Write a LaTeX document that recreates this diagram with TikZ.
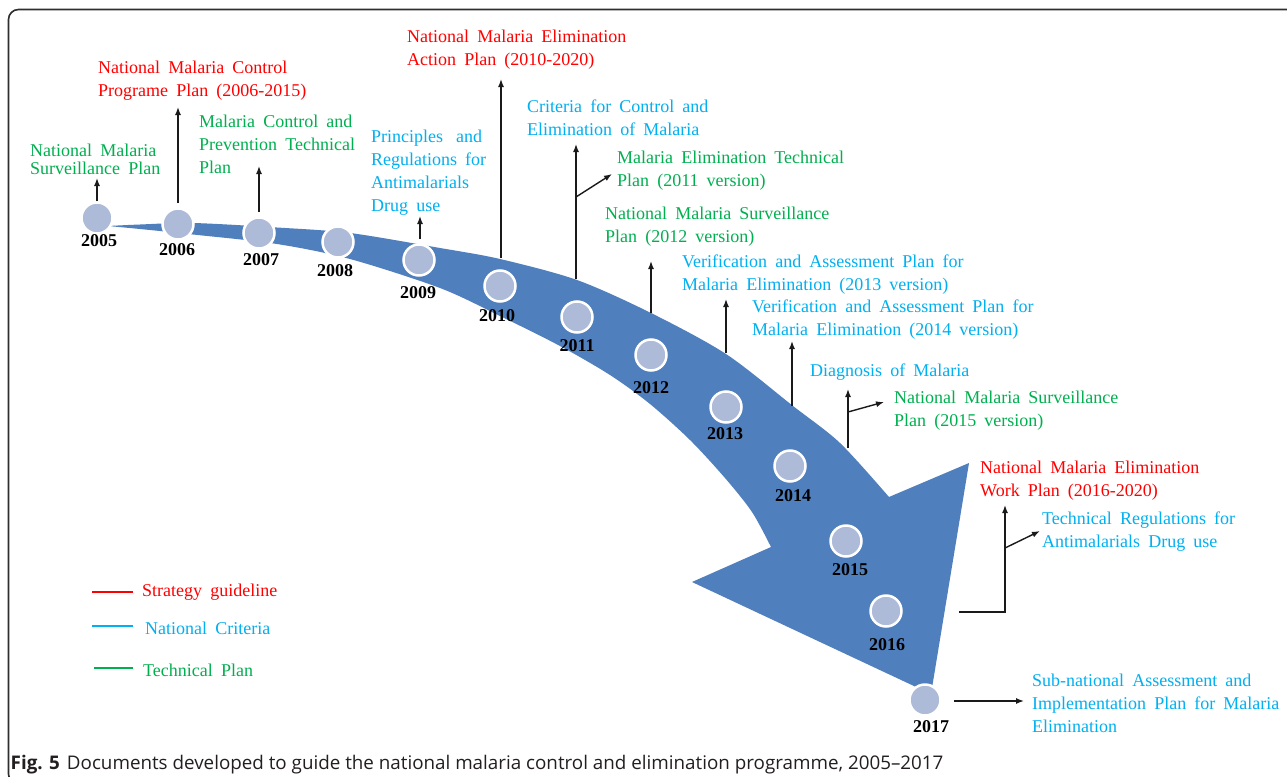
\documentclass[tikz,border=0pt]{standalone}
\usepackage{fontspec}
\setmainfont{Liberation Serif}
\newfontfamily\capfont[Ligatures=TeX]{Open Sans}
\usetikzlibrary{arrows.meta}
\definecolor{bandblue}{HTML}{4F7FBD}
\definecolor{dotfill}{HTML}{AEBBD8}
\definecolor{tred}{HTML}{FF0000}
\definecolor{tblue}{HTML}{00B0F0}
\definecolor{tgreen}{HTML}{00B050}
\definecolor{framegray}{HTML}{2E2E2E}
\definecolor{captext}{HTML}{231F20}
\definecolor{arrgray}{HTML}{1A1A1A}
\newcommand\wsp{\spaceskip=0.45em plus 0.1em minus 0.05em\relax}
\newcommand\docfont[1]{\fontsize{18}{#1}\selectfont\wsp}
\begin{document}
\begin{tikzpicture}[x=1pt,y=-1pt,
  dot/.style={circle, fill=dotfill, draw=white, line width=2.5pt, minimum size=31pt, inner sep=0pt},
  yr/.style={font=\fontsize{18}{20}\selectfont\bfseries, inner sep=0pt, text=black},
  doc/.style={align=left, anchor=north west, inner sep=0pt, font=\docfont{23.5}},
  stratdoc/.style={doc, text=tred},
  critdoc/.style={doc, text=tblue},
  techdoc/.style={doc, text=tgreen},
  arr/.style={draw=arrgray, line width=1.4pt, -{Latex[length=8pt,width=6pt]}},
  legline/.style={line width=1.2pt},
  legtext/.style={anchor=west, inner sep=0pt, font=\fontsize{18}{20}\selectfont}
]
\useasboundingbox (0,0) rectangle (1287,776);
\fill[white] (0,0) rectangle (1287,776);
% frame
\begin{scope}
\clip (0,0) rectangle (1287,776);
\draw[framegray, line width=1.6pt, rounded corners=10pt] (1300,784) -- (8.5,784) -- (8.5,9.5) -- (1300,9.5);
\end{scope}

% band arrow
\fill[bandblue] plot[smooth, tension=0.5] coordinates {(108,226) (140,224.5) (193,223) (277,227.5) (350,233) (440,248) (500,259) (577,280) (651,313) (726,354) (793,406) (840,443) (889,497)}
  -- (969,463) -- (931,694) -- (692,582) -- (771,547)
  -- plot[smooth, tension=0.5] coordinates {(771,547) (752,512) (725,478) (690,440) (650,404) (610,375) (560,346) (500,316) (440,288) (350,259) (277,244) (193,234.5) (140,229) (108,226)} -- cycle;

% circles
\node[dot] (c2005) at (97,218) {};
\node[dot] (c2006) at (178,224) {};
\node[dot] (c2007) at (259,233) {};
\node[dot] (c2008) at (338,242) {};
\node[dot] (c2009) at (419,260) {};
\node[dot] (c2010) at (500,286) {};
\node[dot] (c2011) at (577,317) {};
\node[dot] (c2012) at (651,355) {};
\node[dot] (c2013) at (726,407) {};
\node[dot] (c2014) at (790,466) {};
\node[dot] (c2015) at (846,541) {};
\node[dot] (c2016) at (886,611) {};
\node[dot] (c2017) at (925,700) {};

% year labels
\node[yr] (y2005) at (99,241) {2005};
\node[yr] (y2006) at (177,250) {2006};
\node[yr] (y2007) at (261,260) {2007};
\node[yr] (y2008) at (335,271) {2008};
\node[yr] (y2009) at (418,293) {2009};
\node[yr] (y2010) at (497,316) {2010};
\node[yr] (y2011) at (577,346) {2011};
\node[yr] (y2012) at (651,388) {2012};
\node[yr] (y2013) at (725,434) {2013};
\node[yr] (y2014) at (793,496) {2014};
\node[yr] (y2015) at (850,570) {2015};
\node[yr] (y2016) at (887,645) {2016};
\node[yr] (y2017) at (931,727) {2017};

% documents
\node[stratdoc] (d06a) at (98,60.5) {National Malaria Control\\Programe Plan (2006-2015)};
\node[stratdoc] (d10a) at (407,29.5) {National Malaria Elimination\\Action Plan (2010-2020)};
\node[stratdoc] (d16a) at (980,460.5) {National Malaria Elimination\\Work Plan (2016-2020)};
\node[techdoc, font=\docfont{18.5}] (d05a) at (30,143.5) {National Malaria\\Surveillance Plan};
\node[techdoc, font=\docfont{23}] (d07a) at (199,114.5) {Malaria Control and\\Prevention Technical\\Plan};
\node[techdoc] (d11b) at (617,150.5) {Malaria Elimination Technical\\Plan (2011 version)};
\node[techdoc] (d12a) at (605,206.5) {National Malaria Surveillance\\Plan (2012 version)};
\node[techdoc] (d15b) at (894,390.5) {National Malaria Surveillance\\Plan (2015 version)};
\node[critdoc, font=\docfont{23}] (d09a) at (371,129.5) {\hbox to 111pt{Principles\hfill and}\\\hbox to 115pt{Regulations\hfill for}\\Antimalarials\\Drug use};
\node[critdoc] (d11a) at (527,99.5) {Criteria for Control and\\Elimination of Malaria};
\node[critdoc, font=\docfont{23}] (d13a) at (682,254.5) {Verification and Assessment Plan for\\Malaria Elimination (2013 version)};
\node[critdoc, font=\docfont{23}] (d14a) at (752,299.5) {Verification and Assessment Plan for\\Malaria Elimination (2014 version)};
\node[critdoc] (d15a) at (810,363.5) {Diagnosis of Malaria};
\node[critdoc] (d16b) at (1042,511.5) {Technical Regulations for\\Antimalarials Drug use};
\node[critdoc, font=\docfont{23}] (d17a) at (1032,673.5) {Sub-national Assessment and\\Implementation Plan for Malaria\\Elimination};

% arrow coordinates
\coordinate (e05) at (97,178);
\coordinate (s06) at (178,203); \coordinate (e06) at (178,107);
\coordinate (s07) at (259,212); \coordinate (e07) at (259,166);
\coordinate (s09) at (420,239); \coordinate (e09) at (420,216);
\coordinate (s10) at (501,258); \coordinate (e10) at (501,79);
\coordinate (s11) at (576,279); \coordinate (e11) at (576,144);
\coordinate (b11) at (576,197); \coordinate (f11) at (612,174);
\coordinate (s12) at (651,313); \coordinate (e12) at (651,261);
\coordinate (s13) at (726,353); \coordinate (e13) at (726,299);
\coordinate (s14) at (792,406); \coordinate (e14) at (792,341);
\coordinate (s15) at (848,448); \coordinate (e15) at (848,389);
\coordinate (b15) at (848,412); \coordinate (f15) at (884,402);
\coordinate (s16) at (959,612); \coordinate (e16) at (1005,505);
\coordinate (b16) at (1005,548); \coordinate (f16) at (1040,531);
\coordinate (s17) at (954,701); \coordinate (e17) at (1024,701);

\draw[arr] (c2005.north) -- (e05);
\draw[arr] (s06) -- (e06);
\draw[arr] (s07) -- (e07);
\draw[arr] (s09) -- (e09);
\draw[arr] (s10) -- (e10);
\draw[arr] (s11) -- (e11);
\draw[arr] (b11) -- (f11);
\draw[arr] (s12) -- (e12);
\draw[arr] (s13) -- (e13);
\draw[arr] (s14) -- (e14);
\draw[arr] (s15) -- (e15);
\draw[arr] (b15) -- (f15);
\draw[arr] (s16) -| (e16);
\draw[arr] (b16) -- (f16);
\draw[arr] (s17) -- (e17);

% legend
\coordinate (lr1) at (92,592); \coordinate (lr2) at (133,592);
\coordinate (lb1) at (92,626); \coordinate (lb2) at (133,626);
\coordinate (lg1) at (94,668); \coordinate (lg2) at (133,668);
\draw[legline, tred] (lr1) -- (lr2);
\draw[legline, tblue] (lb1) -- (lb2);
\draw[legline, tgreen] (lg1) -- (lg2);
\node[legtext, text=tred] (lt1) at (142,592) {Strategy\hspace{0.45em}guideline};
\node[legtext, text=tblue] (lt2) at (145,628) {National\hspace{0.45em}Criteria};
\node[legtext, text=tgreen] (lt3) at (143,670) {Technical\hspace{0.45em}Plan};

% caption
\node[anchor=base west, inner sep=0pt, text=captext, font=\capfont\fontsize{18.8}{22}\selectfont] (cap) at (10.5,769) {\textbf{Fig. 5}\hspace{7pt}Documents developed to guide the national malaria control and elimination programme, 2005–2017};
\end{tikzpicture}
\end{document}
